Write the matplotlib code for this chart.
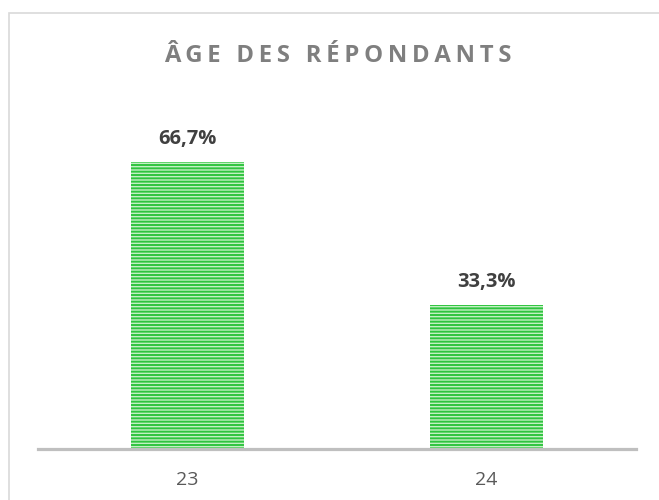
import matplotlib
matplotlib.use("Agg")
from matplotlib import pyplot as plt
from matplotlib.patches import Rectangle

# donnees
categories = ["23", "24"]
pourcentages = [66.7, 33.3]
etiquettes = ["66,7%", "33,3%"]
titre = "ÂGE DES RÉPONDANTS"

plt.rcParams["font.family"] = ["Open Sans", "DejaVu Sans"]
plt.rcParams["hatch.linewidth"] = 1.4
plt.rcParams["hatch.color"] = "#2fc43f"

fig = plt.figure(figsize=(6.59, 5), dpi=100)
ax = fig.add_axes([0.0577, 0.103, 0.9073, 0.688])

# cadre du graphique (bord gauche et haut visibles)
fig.patches.append(Rectangle((9 / 659, -0.05), 1.2, 1 - 13 / 500 + 0.05,
                             transform=fig.transFigure, fill=False,
                             edgecolor="#d9d9d9", linewidth=1.2))

x = list(range(len(categories)))
barres = ax.bar(x, pourcentages, width=0.378, color="#c4f0c4",
                edgecolor="#2fc43f", linewidth=0, hatch="-----")

for xi, val, lab in zip(x, pourcentages, etiquettes):
    ax.annotate(lab, (xi, val), xytext=(0, 13), textcoords="offset points",
                ha="center", va="baseline", fontsize=14.5, fontweight="bold",
                color="#404040")

ax.set_xlim(-0.5, 1.5)
ax.set_ylim(0, 80)
ax.set_xticks(x)
ax.set_xticklabels(categories, fontsize=14, color="#595959")
ax.tick_params(axis="x", length=0, pad=16)
ax.set_yticks([])
for s in ["top", "right", "left"]:
    ax.spines[s].set_visible(False)
ax.spines["bottom"].set_color("#bfbfbf")
ax.spines["bottom"].set_linewidth(2.3)

# titre espace (espaces fines entre les lettres)
titre_espace = "\u2009".join(titre)
fig.text(0.512, 1 - 62 / 500, titre_espace, ha="center", va="baseline",
         fontsize=17.2, fontweight="bold", color="#7f7f7f")

fig.savefig("out.png", dpi=100)
